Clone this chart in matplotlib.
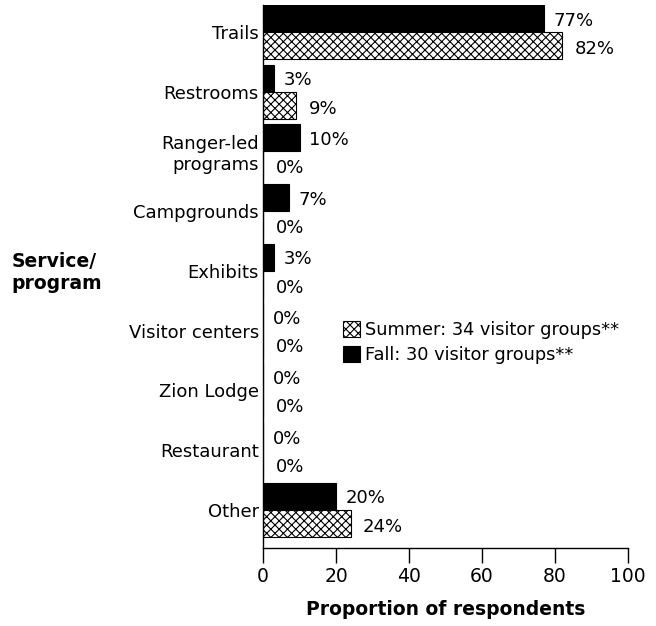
import numpy as np
import matplotlib
matplotlib.use('Agg')
import matplotlib.pyplot as plt

plt.rcParams['font.family'] = ['DejaVu Sans']
plt.rcParams['hatch.linewidth'] = 0.8

categories = ['Trails', 'Restrooms', 'Ranger-led\nprograms', 'Campgrounds', 'Exhibits',
              'Visitor centers', 'Zion Lodge', 'Restaurant', 'Other']
fall = [77, 3, 10, 7, 3, 0, 0, 0, 20]
summer = [82, 9, 0, 0, 0, 0, 0, 0, 24]

fig = plt.figure(figsize=(6.56, 6.26), dpi=100)
ax = fig.add_axes([0.401, 0.1246, 0.556, 0.8674])

y = np.arange(len(categories))
h = 0.45
bf = ax.barh(y - h / 2, fall, height=h, color='black', edgecolor='black', linewidth=0.8,
             label='Fall: 30 visitor groups**')
bs = ax.barh(y + h / 2, summer, height=h, color='white', edgecolor='black', hatch='xxxx',
             linewidth=0.8, label='Summer: 34 visitor groups**')

for i in range(len(categories)):
    ax.annotate(f'{fall[i]}%', (fall[i], y[i] - h / 2), xytext=(7, -1.5), textcoords='offset points',
                va='center', ha='left', fontsize=13)
    ax.annotate(f'{summer[i]}%', (summer[i], y[i] + h / 2), xytext=(9, -2.5), textcoords='offset points',
                va='center', ha='left', fontsize=13)

ax.set_xlim(0, 100)
ax.set_ylim(8.64, -0.45)
ax.set_xticks([0, 20, 40, 60, 80, 100])
ax.set_yticks(y)
ax.set_yticklabels(categories, fontsize=13, ha='right', multialignment='right')
ax.tick_params(axis='y', length=0, pad=3)
ax.tick_params(axis='x', length=11, width=1, labelsize=13.5, pad=3)
for s in ['top', 'right']:
    ax.spines[s].set_visible(False)
ax.spines['left'].set_linewidth(1)
ax.spines['bottom'].set_linewidth(1)

ax.set_xlabel('Proportion of respondents', fontsize=13.5, fontweight='bold', labelpad=10)
fig.text(0.017, 0.565, 'Service/\nprogram', fontsize=13.5, fontweight='bold', ha='left', va='center')

ax.legend(handles=[bs, bf], loc='upper left', bbox_to_anchor=(0.219, 0.418), frameon=False,
          fontsize=12.8, handlelength=0.95, handleheight=1.0, handletextpad=0.3, labelspacing=0.4,
          borderaxespad=0, borderpad=0)

fig.savefig('out.png', dpi=100)
